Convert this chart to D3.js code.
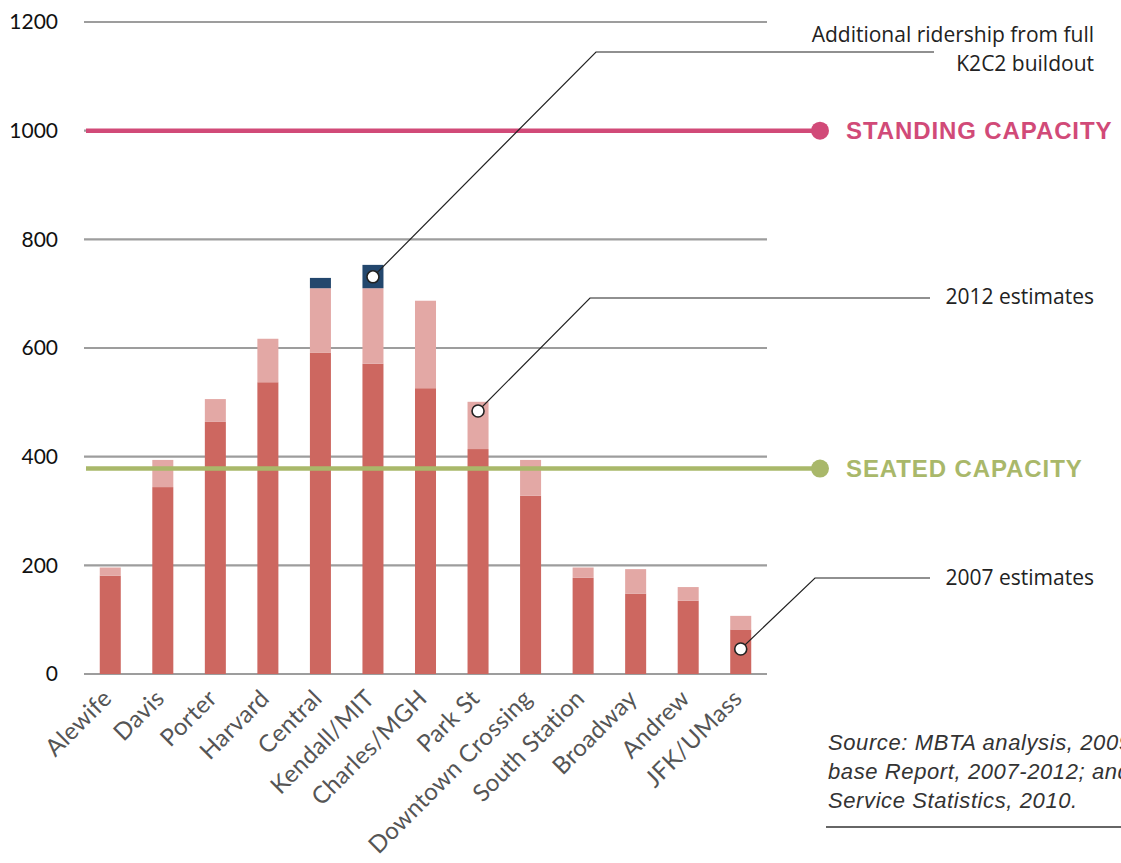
<!DOCTYPE html>
<html><head><meta charset="utf-8">
<script src="https://cdn.jsdelivr.net/npm/d3@7"></script>
<style>body{margin:0;background:#fff;overflow:hidden}svg{display:block}</style>
</head><body>
<svg id="c" width="1121" height="863"></svg>
<script>
const stations = ["Alewife","Davis","Porter","Harvard","Central","Kendall/MIT","Charles/MGH","Park St","Downtown Crossing","South Station","Broadway","Andrew","JFK/UMass"];
const est2007 = [181,344,464,537,591,571,526,414,328,177,148,135,82];
const est2012 = [196,394,506,617,710,710,687,501,394,196,193,160,107];
const k2c2 = [0,0,0,0,729,753,0,0,0,0,0,0,0];
const yTicks = [0,200,400,600,800,1000,1200];
const standingCapacity = 1000;
const seatedCapacity = 378;

const svg = d3.select("#c");
const x = d3.scaleBand().domain(stations).range([84,767]).paddingInner(0.6).paddingOuter(0.3);
const y = d3.scaleLinear().domain([0,1200]).range([674,22]);

// gridlines
svg.append("g").selectAll("line").data(yTicks).join("line")
  .attr("x1",84).attr("x2",767).attr("y1",d=>y(d)).attr("y2",d=>y(d))
  .attr("stroke","#9d9d9d").attr("stroke-width",2.2);

// y labels
svg.append("g").selectAll("text").data(yTicks).join("text")
  .attr("x",58).attr("y",d=>y(d)).attr("dy","0.35em").attr("text-anchor","end")
  .attr("font-family","Lato, 'Noto Sans', sans-serif").attr("font-size",21).attr("fill","#111")
  .text(d=>d);

// bars
const g = svg.append("g");
g.selectAll(".d07").data(stations).join("rect")
  .attr("x",d=>x(d)).attr("width",x.bandwidth())
  .attr("y",(d,i)=>y(est2007[i])).attr("height",(d,i)=>y(0)-y(est2007[i]))
  .attr("fill","#cd6760");
g.selectAll(".d12").data(stations).join("rect")
  .attr("x",d=>x(d)).attr("width",x.bandwidth())
  .attr("y",(d,i)=>y(est2012[i])).attr("height",(d,i)=>y(est2007[i])-y(est2012[i]))
  .attr("fill","#e3a8a5");
g.selectAll(".k2").data(stations.filter((d,i)=>k2c2[i]>0)).join("rect")
  .attr("x",d=>x(d)).attr("width",x.bandwidth())
  .attr("y",d=>y(k2c2[stations.indexOf(d)])).attr("height",d=>{const i=stations.indexOf(d);return y(est2012[i])-y(k2c2[i]);})
  .attr("fill","#23476d");

// capacity lines
function capLine(v,color,label){
  svg.append("line").attr("x1",86).attr("x2",820).attr("y1",y(v)).attr("y2",y(v))
    .attr("stroke",color).attr("stroke-width",4.5);
  svg.append("circle").attr("cx",820).attr("cy",y(v)).attr("r",9).attr("fill",color);
  svg.append("text").attr("x",846).attr("y",y(v)).attr("dy","0.36em")
    .attr("font-family","'Liberation Sans', Arial, sans-serif").attr("font-weight","bold")
    .attr("font-size",24).attr("letter-spacing",0.9).attr("fill",color).text(label);
}
capLine(standingCapacity,"#d14a78","STANDING CAPACITY");
capLine(seatedCapacity,"#a9b86a","SEATED CAPACITY");

// x labels
svg.append("g").selectAll("text").data(stations).join("text")
  .attr("transform",d=>`translate(${x(d)+x.bandwidth()/2-3},${y(0)+20}) rotate(-45)`)
  .attr("text-anchor","end").attr("dy","0.35em")
  .attr("font-family","Lato, 'Noto Sans', sans-serif").attr("font-size",24).attr("letter-spacing",0.3).attr("fill","#555")
  .text(d=>d);

// annotations
function annot(idx,val,elbowX,elbowY,endX,lines){
  const cx = x(stations[idx])+x.bandwidth()/2;
  const cy = y(val);
  svg.append("polyline").attr("points",`${cx},${cy} ${elbowX},${elbowY} ${endX},${elbowY}`)
    .attr("fill","none").attr("stroke","#222").attr("stroke-width",1.2);
  svg.append("circle").attr("cx",cx).attr("cy",cy).attr("r",6)
    .attr("fill","#fff").attr("stroke","#222").attr("stroke-width",1.6);
  lines.forEach((t,k)=>{
    svg.append("text").attr("x",1094).attr("y",t.y).attr("dy","0.35em").attr("text-anchor","end")
      .attr("font-family","'Open Sans', Lato, sans-serif").attr("font-size",21).attr("fill","#222").text(t.s);
  });
}
annot(5,731,596,52,934,[{s:"Additional ridership from full",y:35},{s:"K2C2 buildout",y:64}]);
annot(7,484,590,298,930,[{s:"2012 estimates",y:297}]);
annot(12,46,815,578,930,[{s:"2007 estimates",y:578}]);

// source
const src = ["Source: MBTA analysis, 2009; CTPS Data-","base Report, 2007-2012; and MBTA Ridership and","Service Statistics, 2010."];
svg.append("g").selectAll("text").data(src).join("text")
  .attr("x",828).attr("y",(d,i)=>742+i*29).attr("dy","0.35em")
  .attr("font-family","'Liberation Sans', Arial, sans-serif").attr("font-style","italic")
  .attr("font-size",22).attr("letter-spacing",0.6).attr("fill","#333").text(d=>d);
svg.append("line").attr("x1",826).attr("x2",1121).attr("y1",827).attr("y2",827)
  .attr("stroke","#333").attr("stroke-width",1.5);
</script>
</body></html>
